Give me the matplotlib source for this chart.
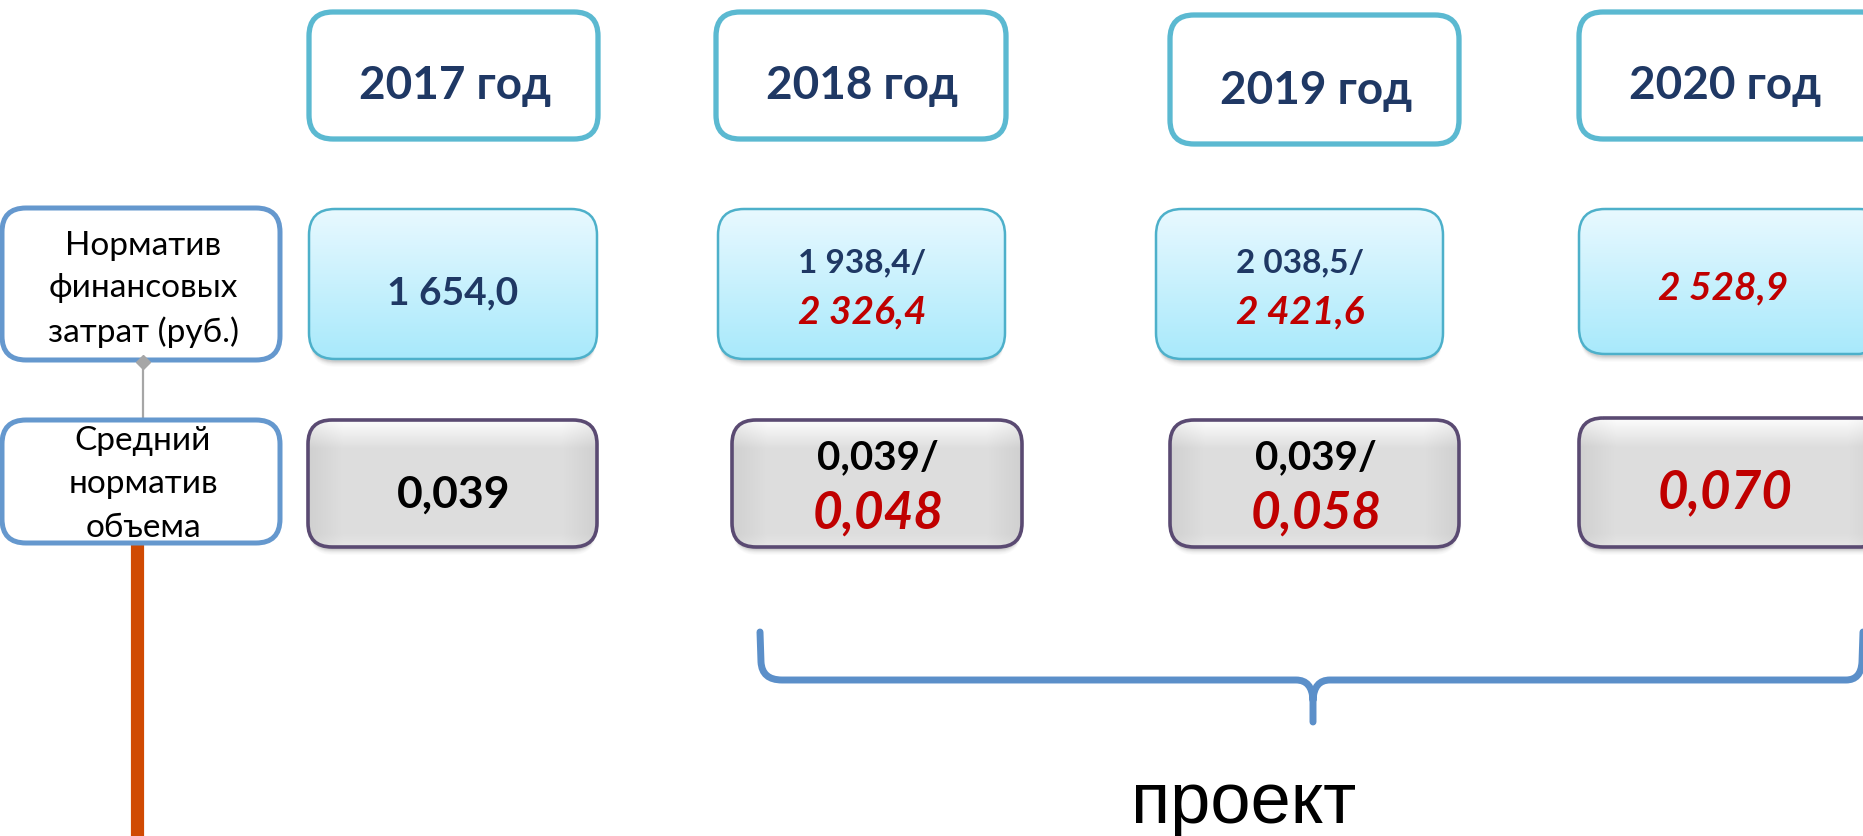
import numpy as np
import matplotlib
matplotlib.use('Agg')
import matplotlib.pyplot as plt
from matplotlib.patches import FancyBboxPatch, PathPatch
from matplotlib.path import Path
from matplotlib.lines import Line2D

# ---------------- data ----------------
years = ['2017 год', '2018 год', '2019 год', '2020 год']
fin_base = [1654.0, 1938.4, 2038.5, None]     # норматив финансовых затрат (действующий)
fin_proj = [None, 2326.4, 2421.6, 2528.9]     # норматив финансовых затрат (проект)
vol_base = [0.039, 0.039, 0.039, None]        # средний норматив объема (действующий)
vol_proj = [None, 0.048, 0.058, 0.070]        # средний норматив объема (проект)
row_labels = ['Норматив\nфинансовых\nзатрат (руб.)', 'Средний\nнорматив\nобъема']
project_label = 'проект'


def fmt(v, nd):
    s = f"{v:,.{nd}f}"
    return s.replace(',', ' ').replace('.', ',')


# ---------------- layout ----------------
W, H = 1863, 836
fig = plt.figure(figsize=(W / 100, H / 100), dpi=100)
ax = fig.add_axes([0, 0, 1, 1])
ax.set_xlim(0, W)
ax.set_ylim(H, 0)
ax.axis('off')

FONT = ['Lato', 'DejaVu Sans']
NAVY = '#1F3864'
RED = '#C00000'

year_x = [(309, 598), (716, 1006), (1170, 1459), (1579, 1885)]
year_y = [(12, 139), (12, 139), (15, 144), (12, 139)]
fin_x = [(309, 597), (718, 1005), (1156, 1443), (1579, 1885)]
fin_y = [(209, 359), (209, 359), (209, 359), (209, 354)]
vol_x = [(308, 597), (732, 1022), (1170, 1459), (1579, 1885)]
vol_y = [(420, 547), (420, 547), (420, 547), (418, 547)]


def rbox(x0, x1, y0, y1, r, **kw):
    p = FancyBboxPatch((x0, y0), x1 - x0, y1 - y0,
                       boxstyle=f"round,pad=0,rounding_size={r}", **kw)
    ax.add_patch(p)
    return p


def shadow(x0, x1, y0, y1, r):
    for i, a in enumerate([0.10, 0.08, 0.06, 0.04, 0.03, 0.02]):
        rbox(x0 + 1, x1 - 1, y0 + 4 + i, y1 + 3 + i, r, facecolor='#606060',
             edgecolor='none', alpha=a, zorder=1)


def gradient_fill(patch, x0, x1, y0, y1, img):
    im = ax.imshow(img, extent=(x0, x1, y1, y0), origin='upper',
                   aspect='auto', zorder=2, interpolation='bilinear')
    im.set_clip_path(patch)


# cyan vertical gradient
def cyan_img(h=100, w=10):
    top = np.array([0.91, 0.975, 1.0])
    bot = np.array([0.66, 0.915, 0.985])
    t = np.linspace(0, 1, h)[:, None, None]
    col = top * (1 - t) + bot * t
    return np.repeat(col, w, axis=1)


# grey bevel gradient
def grey_img(h=120, w=240):
    yy, xx = np.mgrid[0:h, 0:w]
    ty = yy / (h - 1)
    tx = xx / (w - 1)
    v = np.full((h, w), 0.87)
    side = np.minimum(tx, 1 - tx)
    v -= np.clip(0.12 - side, 0, None) * 0.45
    v += np.clip(0.22 - ty, 0, None) * 0.55
    v += np.clip(ty - 0.9, 0, None) * 0.3
    v = np.clip(v, 0, 1)
    return np.dstack([v, v, v])


# ---------------- year header boxes ----------------
for i, yr in enumerate(years):
    x0, x1 = year_x[i]
    y0, y1 = year_y[i]
    rbox(x0, x1, y0, y1, 24, facecolor='white', edgecolor='#5BB9D1',
         linewidth=3.8, zorder=3)
    ax.text(x0 + 146, y1 - 40, yr, ha='center', va='baseline', fontsize=33,
            fontweight='bold', color=NAVY, family=FONT, zorder=5)

# ---------------- financial norm boxes ----------------
for i in range(len(years)):
    x0, x1 = fin_x[i]
    y0, y1 = fin_y[i]
    shadow(x0, x1, y0, y1, 26)
    p = rbox(x0, x1, y0, y1, 26, facecolor='none', edgecolor='#4DB0CA',
             linewidth=1.8, zorder=3)
    gradient_fill(p, x0, x1, y0, y1, cyan_img())
    cx = x0 + 144
    b, pr = fin_base[i], fin_proj[i]
    if b is not None and pr is None:
        ax.text(cx, 304, fmt(b, 1), ha='center', va='baseline', fontsize=28,
                fontweight='bold', color=NAVY, family=FONT, zorder=5)
    elif b is not None and pr is not None:
        ax.text(cx, 272, fmt(b, 1) + '/', ha='center', va='baseline', fontsize=24,
                fontweight='bold', color=NAVY, family=FONT, zorder=5)
        ax.text(cx, 323, fmt(pr, 1), ha='center', va='baseline', fontsize=28,
                fontweight='bold', style='italic', color=RED, family=FONT, zorder=5)
    else:
        ax.text(cx, 299, fmt(pr, 1), ha='center', va='baseline', fontsize=28,
                fontweight='bold', style='italic', color=RED, family=FONT, zorder=5)

# ---------------- volume norm boxes ----------------
for i in range(len(years)):
    x0, x1 = vol_x[i]
    y0, y1 = vol_y[i]
    shadow(x0, x1, y0, y1, 24)
    p = rbox(x0, x1, y0, y1, 24, facecolor='none', edgecolor='#5A4A72',
             linewidth=2.6, zorder=3)
    gradient_fill(p, x0, x1, y0, y1, grey_img())
    cx = x0 + 146
    b, pr = vol_base[i], vol_proj[i]
    if b is not None and pr is None:
        ax.text(cx, 508, fmt(b, 3), ha='center', va='baseline', fontsize=32,
                fontweight='bold', color='black', family=FONT, zorder=5)
    elif b is not None and pr is not None:
        ax.text(cx, 469, fmt(b, 3) + '/', ha='center', va='baseline', fontsize=29,
                fontweight='bold', color='black', family=FONT, zorder=5)
        ax.text(cx, 529, fmt(pr, 3), ha='center', va='baseline', fontsize=37,
                fontweight='bold', style='italic', color=RED, family=FONT, zorder=5)
    else:
        ax.text(cx, 508, fmt(pr, 3), ha='center', va='baseline', fontsize=38,
                fontweight='bold', style='italic', color=RED, family=FONT, zorder=5)

# ---------------- row labels ----------------
ax.add_line(Line2D([137, 137], [543, H + 5], color='#D04A02', linewidth=9.5,
                   solid_capstyle='butt', zorder=2))
ax.add_line(Line2D([143, 143], [362, 420], color='#A6A6A6', linewidth=1.6, zorder=2))
ax.add_line(Line2D([143], [362], marker='D', markersize=7, color='#A6A6A6',
                   linestyle='none', zorder=6))

label_boxes = [(2, 280, 208, 360), (2, 280, 420, 543)]
label_baselines = [[255, 297, 342], [450, 493, 537]]
for (x0, x1, y0, y1), lines, bls in zip(label_boxes, row_labels, label_baselines):
    rbox(x0, x1, y0, y1, 24, facecolor='white', edgecolor='#6598CE',
         linewidth=3.6, zorder=3)
    for ln, bl in zip(lines.split('\n'), bls):
        ax.text(143, bl, ln, ha='center', va='baseline', fontsize=24,
                color='black', family=FONT, zorder=6)

# ---------------- brace ----------------
verts = [(760, 632), (761, 662), (762, 680), (782, 680), (1296, 680),
         (1312, 680), (1313, 700), (1313, 722),
         (1313, 700), (1314, 680), (1330, 680), (1846, 680),
         (1861, 680), (1862, 662), (1863, 632)]
codes = [Path.MOVETO, Path.LINETO, Path.CURVE3, Path.CURVE3, Path.LINETO,
         Path.CURVE3, Path.CURVE3, Path.LINETO,
         Path.MOVETO, Path.CURVE3, Path.CURVE3, Path.LINETO,
         Path.CURVE3, Path.CURVE3, Path.LINETO]
ax.add_patch(PathPatch(Path(verts, codes), facecolor='none', edgecolor='#5B8FC9',
                       linewidth=5, capstyle='round', zorder=3))

ax.text(1244, 823, project_label, ha='center', va='baseline', fontsize=52,
        color='black', family=['Liberation Sans', 'DejaVu Sans'], zorder=5)

ax.set_xlim(0, W)
ax.set_ylim(H, 0)
fig.savefig('out.png', dpi=100)
